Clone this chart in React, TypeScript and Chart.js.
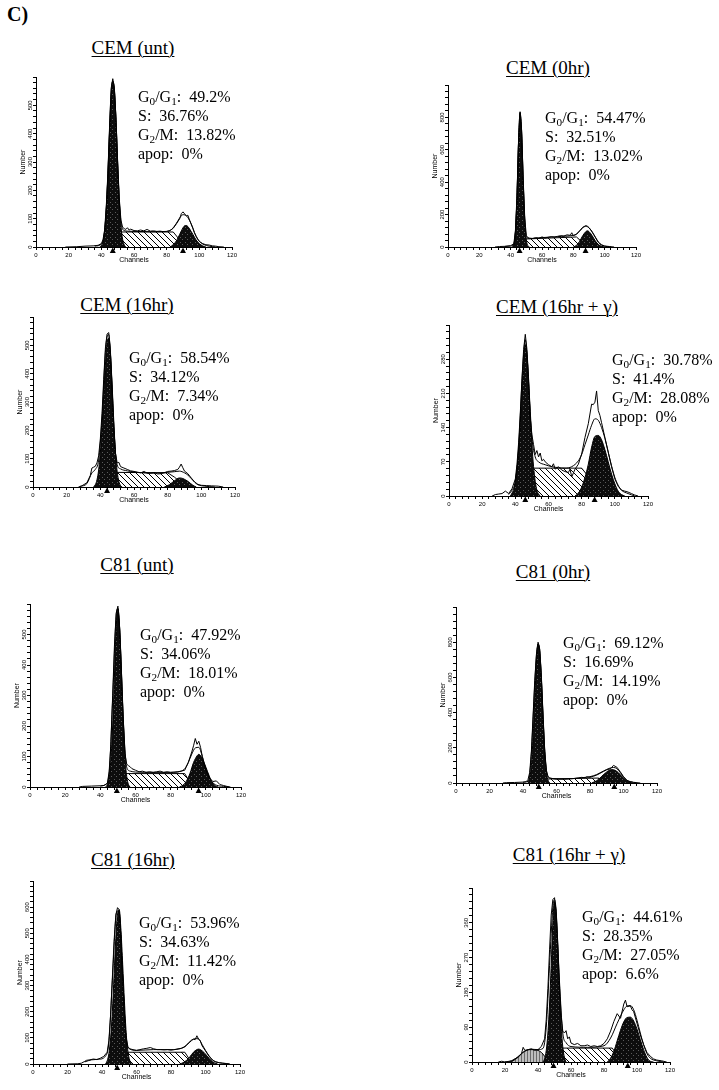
import React, { useEffect, useRef } from 'react';
import { Chart, registerables } from 'chart.js';

Chart.register(...registerables);

type Pt = [number, number];

// ---------- Panel titles & statistics ----------
const panelTitles = ['CEM (unt)', 'CEM (0hr)', 'CEM (16hr)', 'CEM (16hr + γ)', 'C81 (unt)', 'C81 (0hr)', 'C81 (16hr)', 'C81 (16hr + γ)'];
const g1Pcts = ['49.2%', '54.47%', '58.54%', '30.78%', '47.92%', '69.12%', '53.96%', '44.61%'];
const sPcts = ['36.76%', '32.51%', '34.12%', '41.4%', '34.06%', '16.69%', '34.63%', '28.35%'];
const g2Pcts = ['13.82%', '13.02%', '7.34%', '28.08%', '18.01%', '14.19%', '11.42%', '27.05%'];
const apopPcts = ['0%', '0%', '0%', '0%', '0%', '0%', '0%', '6.6%'];

// ---------- Axis settings ----------
const yMaxes = [600, 1000, 600, 350, 600, 1000, 700, 450];
const yLabelSteps = [100, 200, 100, 70, 100, 200, 100, 90];
const xMax = 120;
const xLabelStep = 20;
const xMinorStep = 4;
const peakMeans: number[][] = [[47, 90], [45.7, 87.8], [44], [46, 87.8], [49.4, 95.9], [49.4, 94.5], [48.8], [49.4, 94.4]];

// ---------- Data: CEM (unt) ----------
const cemUntRaw: Pt[] = [[18,0],[25,1],[30,3],[35,4],[38,6],[40,12],[41,25],[42,60],[43,140],[44,260],[45,420],[46,560],[47,594],[48,560],[49,450],[50,300],[51,170],[52,95],[53,70],[54,65],[55,62],[56,68],[57,60],[58,63],[60,58],[62,57],[64,60],[66,57],[68,62],[70,56],[72,57],[74,55],[76,56],[78,54],[80,55],[82,58],[84,66],[86,82],[88,100],[89,118],[90,124],[91,117],[92,110],[93,112],[94,95],[95,82],[96,68],[97,50],[98,38],[99,28],[100,20],[102,12],[104,8],[106,7],[108,4],[110,3],[112,1],[115,0]];
const cemUntFit: Pt[] = [[36,3],[40,10],[42,55],[43,135],[44,255],[45,410],[46,545],[47,585],[48,555],[49,445],[50,295],[51,165],[52,90],[53,64],[54,58],[56,56],[60,55],[70,54],[80,55],[83,62],[86,84],[88,103],[90,114],[92,110],[94,94],[96,66],[98,38],[100,20],[103,8],[106,3],[110,0]];
const cemUntG1: Pt[] = [[39,0],[40,5],[41,20],[42,55],[43,130],[44,250],[45,400],[46,530],[47,585],[48,550],[49,440],[50,290],[51,160],[52,75],[53,28],[54,8],[55,0]];
const cemUntS: Pt[] = [[45,0],[46,53],[84,53],[88,25],[89,0]];
const cemUntG2: Pt[] = [[82,0],[84,8],[86,22],[88,45],[90,68],[91,75],[92,76],[93,72],[94,64],[96,45],[98,25],[100,12],[102,4],[104,0]];

// ---------- Data: CEM (0hr) ----------
const cem0Raw: Pt[] = [[30,0],[33,3],[36,4],[40,8],[42,20],[43,95],[44,310],[45,650],[46,835],[47,720],[48,420],[49,175],[50,70],[51,58],[52,55],[54,52],[56,58],[58,54],[60,62],[62,56],[64,60],[66,64],[68,60],[70,66],[72,70],[74,68],[76,75],[78,72],[79,88],[80,70],[82,80],[84,100],[86,122],[88,132],[89,128],[90,120],[92,95],[94,62],[96,30],[98,14],[100,6],[103,3],[106,0]];
const cem0Fit: Pt[] = [[36,3],[40,6],[42,18],[43,90],[44,300],[45,640],[46,825],[47,710],[48,410],[49,170],[50,65],[52,52],[60,58],[70,64],[80,72],[82,78],[84,98],[86,118],[88,128],[90,118],[92,92],[94,60],[96,28],[98,12],[100,5],[104,0]];
const cem0G1: Pt[] = [[41,0],[42,15],[43,90],[44,300],[45,640],[46,830],[47,700],[48,400],[49,160],[50,45],[51,8],[52,0]];
const cem0S: Pt[] = [[45,0],[46,48],[82,62],[85,35],[87,0]];
const cem0G2: Pt[] = [[80,0],[82,10],[84,35],[86,70],[88,95],[89,100],[90,95],[92,70],[94,38],[96,15],[98,4],[100,0]];

// ---------- Data: CEM (16hr) ----------
const cem16Raw: Pt[] = [[27,0],[29,4],[32,15],[34,40],[35,67],[36,70],[37,73],[38,85],[39,110],[40,170],[41,260],[42,380],[43,490],[44,540],[45,545],[46,480],[47,350],[48,210],[49,120],[50,85],[51,87],[52,72],[54,67],[56,62],[58,57],[60,55],[62,52],[64,50],[66,55],[68,48],[70,49],[72,51],[74,46],[76,47],[78,50],[80,55],[82,56],[84,58],[86,62],[87,70],[88,81],[89,68],[90,56],[92,47],[94,32],[96,18],[98,9],[100,6],[103,5],[106,4],[110,3],[113,0]];
const cem16Fit: Pt[] = [[28,2],[32,12],[35,50],[37,62],[39,95],[41,240],[43,475],[44,530],[45,538],[46,470],[47,345],[48,215],[49,120],[50,78],[52,64],[56,57],[60,53],[70,49],[80,52],[84,54],[87,56],[90,50],[92,42],[94,30],[96,17],[98,8],[102,3],[108,0]];
const cem16G1: Pt[] = [[36,0],[37,8],[38,25],[39,60],[40,120],[41,210],[42,320],[43,430],[44,510],[45,525],[46,470],[47,360],[48,230],[49,120],[50,55],[51,20],[52,5],[53,0]];
const cem16S: Pt[] = [[43,0],[44,52],[80,50],[84,35],[88,15],[90,0]];
const cem16G2: Pt[] = [[78,0],[81,8],[84,22],[87,32],[89,30],[92,20],[95,6],[97,0]];

// ---------- Data: CEM (16hr + γ) ----------
const cem16gRaw: Pt[] = [[26,0],[28,3],[30,4],[32,5],[34,10],[36,5],[38,15],[40,35],[41,65],[42,110],[43,170],[44,240],[45,300],[46,331],[47,300],[48,240],[49,160],[50,125],[51,105],[52,85],[53,93],[54,80],[55,88],[56,72],[57,75],[58,70],[60,64],[62,60],[63,66],[64,55],[66,60],[68,53],[70,50],[72,48],[73,55],[74,39],[76,55],[78,65],[80,86],[82,120],[84,148],[86,188],[87,187],[88,192],[89,215],[90,175],[91,165],[92,150],[94,120],[96,90],[98,60],[100,35],[102,20],[104,12],[106,10],[108,8],[110,5],[112,2],[114,0]];
const cem16gFit: Pt[] = [[36,3],[38,12],[40,30],[42,100],[44,235],[45,290],[46,320],[47,290],[48,235],[50,120],[52,80],[54,70],[58,64],[62,60],[66,58],[70,57],[74,60],[78,72],[80,85],[82,105],[84,125],[86,145],[88,158],[90,155],[92,140],[94,118],[96,90],[98,62],[100,38],[102,22],[104,12],[108,5],[112,0]];
const cem16gG1: Pt[] = [[37,0],[38,6],[39,14],[40,30],[41,55],[42,95],[43,150],[44,215],[45,275],[46,310],[47,290],[48,230],[49,165],[50,105],[51,60],[52,30],[53,12],[54,4],[55,0]];
const cem16gS: Pt[] = [[45,0],[46,57],[80,57],[84,40],[86,0]];
const cem16gG2: Pt[] = [[76,0],[78,6],[80,18],[82,38],[84,65],[86,100],[88,122],[90,124],[92,115],[94,95],[96,70],[98,45],[100,25],[102,10],[104,3],[106,0]];

// ---------- Data: C81 (unt) ----------
const c81UntRaw: Pt[] = [[28,0],[30,2],[35,3],[40,4],[42,5],[44,12],[45,50],[46,140],[47,300],[48,460],[49,570],[50,593],[51,520],[52,380],[53,230],[54,110],[55,75],[56,70],[57,66],[58,60],[60,55],[62,50],[64,52],[66,48],[68,50],[70,48],[72,50],[74,52],[76,48],[78,50],[80,48],[82,49],[84,50],[86,52],[88,55],[90,80],[92,115],[93,135],[94,159],[95,140],[96,150],[97,130],[98,100],[99,75],[100,55],[102,30],[104,18],[106,20],[108,8],[110,5],[112,2],[114,0]];
const c81UntFit: Pt[] = [[40,3],[43,8],[45,45],[47,290],[49,560],[50,585],[51,515],[53,225],[55,65],[57,52],[60,49],[70,48],[80,48],[86,52],[88,60],[90,80],[92,108],[94,128],[96,130],[98,100],[100,60],[102,32],[104,14],[106,6],[110,2],[113,0]];
const c81UntG1: Pt[] = [[43,0],[44,8],[45,30],[46,90],[47,200],[48,360],[49,520],[50,585],[51,520],[52,380],[53,220],[54,100],[55,35],[56,8],[57,0]];
const c81UntS: Pt[] = [[48,0],[49,44],[88,44],[91,15],[92,0]];
const c81UntG2: Pt[] = [[85,0],[87,6],[89,20],[91,45],[93,80],[95,102],[96,107],[97,103],[99,80],[101,50],[103,22],[105,6],[107,0]];

// ---------- Data: C81 (0hr) ----------
const c810Raw: Pt[] = [[28,0],[30,2],[35,3],[40,5],[42,8],[43,20],[44,60],[45,180],[46,380],[47,580],[48,730],[49,800],[50,760],[51,600],[52,380],[53,180],[54,70],[55,35],[56,28],[58,25],[60,22],[65,22],[70,25],[73,28],[75,32],[77,30],[78,35],[80,32],[82,38],[84,45],[86,55],[88,65],[90,75],[92,80],[93,88],[94,100],[95,95],[96,90],[98,65],[100,35],[102,15],[104,8],[106,4],[108,2],[110,0]];
const c810Fit: Pt[] = [[40,4],[43,10],[44,50],[45,170],[46,360],[47,560],[48,720],[49,790],[50,750],[51,590],[52,370],[53,180],[54,70],[55,35],[58,25],[65,23],[75,30],[80,36],[84,48],[88,68],[92,85],[94,88],[96,82],[98,60],[100,36],[102,16],[104,7],[108,0]];
const c810G1: Pt[] = [[43,0],[44,30],[45,100],[46,260],[47,470],[48,680],[49,790],[50,740],[51,580],[52,360],[53,170],[54,60],[55,15],[56,0]];
const c810S: Pt[] = [[48,0],[49,22],[85,28],[88,10],[89,0]];
const c810G2: Pt[] = [[81,0],[83,8],[85,20],[87,38],[89,55],[91,70],[93,76],[95,72],[97,58],[99,38],[101,20],[103,8],[105,0]];

// ---------- Data: C81 (16hr) ----------
const c8116Raw: Pt[] = [[20,0],[26,1],[28,3],[30,10],[31,14],[33,16],[35,19],[37,17],[39,22],[41,29],[43,45],[44,90],[45,190],[46,330],[47,470],[48,570],[49,598],[50,590],[51,480],[52,330],[53,190],[54,100],[55,67],[56,58],[58,55],[60,52],[62,55],[64,58],[66,60],[68,63],[70,58],[72,55],[74,55],[76,54],[78,55],[80,53],[82,55],[84,58],[86,60],[88,65],[90,80],[92,92],[93,95],[94,93],[95,108],[96,95],[97,88],[98,70],[100,50],[102,30],[104,15],[106,8],[108,5],[110,3],[112,2],[114,0]];
const c8116Fit: Pt[] = [[30,8],[34,16],[38,18],[42,30],[44,85],[46,320],[48,560],[49,585],[50,580],[52,330],[54,95],[56,58],[60,52],[70,55],[80,55],[86,60],[89,72],[92,90],[94,97],[96,96],[98,75],[100,52],[102,32],[104,16],[106,8],[110,3],[114,0]];
const c8116G1: Pt[] = [[42,0],[43,12],[44,40],[45,100],[46,200],[47,340],[48,480],[49,575],[50,590],[51,510],[52,380],[53,240],[54,120],[55,50],[56,15],[57,0]];
const c8116S: Pt[] = [[48,0],[49,45],[88,45],[91,15],[92,0]];
const c8116G2: Pt[] = [[85,0],[87,5],[89,14],[91,28],[93,45],[95,55],[96,57],[97,55],[99,45],[101,30],[103,15],[105,5],[107,0]];

// ---------- Data: C81 (16hr + γ) ----------
const c8116gRaw: Pt[] = [[16,0],[18,2],[20,0],[24,3],[26,8],[28,12],[30,22],[31,38],[32,30],[34,32],[36,34],[38,30],[40,32],[42,40],[44,60],[45,110],[46,190],[47,290],[48,380],[49,420],[50,425],[51,390],[52,300],[53,200],[54,120],[55,80],[56,75],[57,81],[58,60],[59,65],[60,49],[62,45],[64,48],[66,42],[68,42],[70,44],[72,40],[74,42],[76,40],[78,42],[80,48],[82,60],[84,80],[86,105],[88,125],[90,113],[92,150],[93,160],[94,143],[96,145],[97,135],[98,130],[100,100],[102,70],[104,45],[106,25],[108,15],[110,8],[112,5],[115,3],[118,0]];
const c8116gFit: Pt[] = [[20,0],[24,3],[28,14],[32,28],[36,33],[40,32],[43,35],[45,90],[47,250],[49,400],[50,420],[51,390],[53,210],[55,75],[57,50],[60,40],[70,38],[80,42],[84,62],[88,100],[92,135],[94,145],[96,146],[98,135],[100,108],[102,75],[104,45],[106,22],[108,10],[112,3],[116,0]];
const c8116gApop: Pt[] = [[23,0],[26,6],[28,14],[30,22],[32,28],[35,32],[38,32],[40,30],[42,25],[44,15],[46,0]];
const c8116gG1: Pt[] = [[43,0],[44,8],[45,30],[46,75],[47,150],[48,250],[49,360],[50,415],[51,380],[52,290],[53,180],[54,95],[55,40],[56,12],[57,0]];
const c8116gS: Pt[] = [[48,0],[49,36],[85,36],[88,18],[89,0]];
const c8116gG2: Pt[] = [[82,0],[84,10],[86,28],[88,55],[90,82],[92,104],[94,115],[96,116],[98,106],[100,85],[102,58],[104,32],[106,12],[108,2],[110,0]];

const rawSeries = [cemUntRaw, cem0Raw, cem16Raw, cem16gRaw, c81UntRaw, c810Raw, c8116Raw, c8116gRaw];
const fitSeries = [cemUntFit, cem0Fit, cem16Fit, cem16gFit, c81UntFit, c810Fit, c8116Fit, c8116gFit];
const g1Series = [cemUntG1, cem0G1, cem16G1, cem16gG1, c81UntG1, c810G1, c8116G1, c8116gG1];
const sSeries = [cemUntS, cem0S, cem16S, cem16gS, c81UntS, c810S, c8116S, c8116gS];
const g2Series = [cemUntG2, cem0G2, cem16G2, cem16gG2, c81UntG2, c810G2, c8116G2, c8116gG2];
const apopSeries: (Pt[] | null)[] = [null, null, null, null, null, null, null, c8116gApop];

// ---------- Layout (pixel boxes for each panel's plot area and texts) ----------
const layout = [
  { L: 36, T: 77, R: 232, B: 247, tx: 133, ty: 48, sx: 138, sy: 97 },
  { L: 448, T: 85, R: 636, B: 247, tx: 548, ty: 68, sx: 545, sy: 118 },
  { L: 33, T: 317, R: 235, B: 487, tx: 127, ty: 305, sx: 129, sy: 358 },
  { L: 449, T: 325, R: 648, B: 496, tx: 557, ty: 307, sx: 612, sy: 360 },
  { L: 30, T: 604, R: 241, B: 787, tx: 137, ty: 565, sx: 140, sy: 635 },
  { L: 456, T: 607, R: 657, B: 783, tx: 553, ty: 572, sx: 563, sy: 643 },
  { L: 33, T: 881, R: 240, B: 1064, tx: 133, ty: 860, sx: 139, sy: 923 },
  { L: 472, T: 888, R: 670, B: 1062, tx: 569, ty: 855, sx: 582, sy: 917 },
];

const AX_FONT = "'Liberation Sans', Arial, sans-serif";
const SERIF = "'Liberation Serif', 'Times New Roman', serif";
const YW = 17; // y-axis box width
const XH = 17; // x-axis box height
const PT = 6;  // top padding
const PR = 9;  // right padding

const toXY = (a: Pt[]) => a.map(([x, y]) => ({ x, y }));

function makeHatch(): CanvasPattern | string {
  const c = document.createElement('canvas');
  const s = 6;
  c.width = s; c.height = s;
  const g = c.getContext('2d');
  if (!g) return '#ccc';
  g.fillStyle = '#fff';
  g.fillRect(0, 0, s, s);
  g.strokeStyle = '#000';
  g.lineWidth = 1;
  g.beginPath();
  g.moveTo(-1, -1); g.lineTo(s + 1, s + 1);
  g.moveTo(-1, s - 1); g.lineTo(1, s + 1);
  g.moveTo(s - 1, -1); g.lineTo(s + 1, 1);
  g.stroke();
  return g.createPattern(c, 'repeat') || '#ccc';
}

function makeDither(): CanvasPattern | string {
  const c = document.createElement('canvas');
  c.width = 5; c.height = 5;
  const g = c.getContext('2d');
  if (!g) return '#111';
  g.fillStyle = '#0d0d0d';
  g.fillRect(0, 0, 5, 5);
  g.fillStyle = '#5a5a5a';
  g.fillRect(1, 1, 1, 1);
  g.fillRect(3, 3, 1, 1);
  return g.createPattern(c, 'repeat') || '#111';
}

function makeApopPattern(): CanvasPattern | string {
  const c = document.createElement('canvas');
  c.width = 3; c.height = 2;
  const g = c.getContext('2d');
  if (!g) return '#aaa';
  g.fillStyle = '#bdbdbd';
  g.fillRect(0, 0, 3, 2);
  g.fillStyle = '#6a6a6a';
  g.fillRect(0, 0, 1, 2);
  return g.createPattern(c, 'repeat') || '#aaa';
}

const peakMarkerPlugin = {
  id: 'peakMarkers',
  afterDatasetsDraw(chart: any, _args: any, opts: any) {
    const means: number[] = (opts && opts.means) || [];
    const xs = chart.scales.x;
    const area = chart.chartArea;
    const c = chart.ctx;
    c.save();
    c.fillStyle = '#000';
    means.forEach((m) => {
      const px = xs.getPixelForValue(m);
      c.beginPath();
      c.moveTo(px, area.bottom + 0.5);
      c.lineTo(px - 3, area.bottom + 6);
      c.lineTo(px + 3, area.bottom + 6);
      c.closePath();
      c.fill();
    });
    c.restore();
  },
};

function Histogram({ idx }: { idx: number }) {
  const ref = useRef<HTMLCanvasElement | null>(null);
  const p = layout[idx];
  const width = p.R - p.L + YW + PR;
  const height = p.B - p.T + PT + XH;

  useEffect(() => {
    const canvas = ref.current;
    if (!canvas) return;
    const hatch = makeHatch();
    const dither = makeDither();
    const apopFill = makeApopPattern();
    const yMax = yMaxes[idx];
    const yStep = yLabelSteps[idx];
    const datasets: any[] = [
      { label: 'data', data: toXY(rawSeries[idx]), borderColor: '#000', borderWidth: 1, pointRadius: 0, fill: false, tension: 0, order: 0 },
      { label: 'fit', data: toXY(fitSeries[idx]), borderColor: '#000', borderWidth: 1, pointRadius: 0, fill: false, cubicInterpolationMode: 'monotone', order: 1 },
      { label: 'G0/G1', data: toXY(g1Series[idx]), borderColor: '#000', borderWidth: 1, backgroundColor: dither, fill: 'origin', pointRadius: 0, cubicInterpolationMode: 'monotone', order: 2 },
      { label: 'G2/M', data: toXY(g2Series[idx]), borderColor: '#000', borderWidth: 1, backgroundColor: dither, fill: 'origin', pointRadius: 0, cubicInterpolationMode: 'monotone', order: 2 },
      { label: 'S', data: toXY(sSeries[idx]), borderColor: '#000', borderWidth: 1, backgroundColor: hatch, fill: 'origin', pointRadius: 0, tension: 0, order: 4 },
    ];
    const apop = apopSeries[idx];
    if (apop) {
      datasets.push({ label: 'apop', data: toXY(apop), borderColor: '#000', borderWidth: 1, backgroundColor: apopFill, fill: 'origin', pointRadius: 0, cubicInterpolationMode: 'monotone', order: 3 });
    }

    const chart = new Chart(canvas, {
      type: 'line',
      data: { datasets },
      plugins: [peakMarkerPlugin as any],
      options: {
        animation: false,
        responsive: false,
        maintainAspectRatio: false,
        devicePixelRatio: 1,
        events: [],
        layout: { padding: { left: 0, top: PT, right: PR, bottom: 0 } },
        plugins: {
          legend: { display: false },
          tooltip: { enabled: false },
          peakMarkers: { means: peakMeans[idx] },
        } as any,
        scales: {
          x: {
            type: 'linear',
            min: 0,
            max: xMax,
            afterFit: (s: any) => { s.height = XH; },
            ticks: {
              stepSize: xMinorStep,
              autoSkip: false,
              minRotation: 0,
              maxRotation: 0,
              padding: 2,
              color: '#000',
              font: { family: AX_FONT, size: 6 },
              callback: (v: any) => (Number(v) % xLabelStep === 0 ? String(v) : ''),
            },
            grid: { display: true, drawOnChartArea: false, drawTicks: true, tickLength: 3, color: '#000', tickColor: '#000', tickWidth: 1 },
            border: { display: true, color: '#000', width: 1 },
            title: { display: true, text: 'Channels', color: '#000', font: { family: AX_FONT, size: 7 }, padding: 0 },
          },
          y: {
            type: 'linear',
            min: 0,
            max: yMax,
            afterFit: (s: any) => { s.width = YW; },
            ticks: {
              stepSize: yStep / 5,
              autoSkip: false,
              minRotation: 90,
              maxRotation: 90,
              crossAlign: 'center',
              padding: -2,
              color: '#000',
              font: { family: AX_FONT, size: 6 },
              callback: (v: any) => {
                const n = Math.round(Number(v));
                return n % yStep === 0 && n < yMax ? String(n) : '';
              },
            },
            grid: { display: true, drawOnChartArea: false, drawTicks: true, tickLength: 3, color: '#000', tickColor: '#000', tickWidth: 1 },
            border: { display: true, color: '#000', width: 1 },
            title: { display: true, text: 'Number', color: '#000', font: { family: AX_FONT, size: 7 }, padding: 0 },
          },
        },
      } as any,
    });
    return () => chart.destroy();
  }, [idx]);

  return (
    <canvas
      ref={ref}
      width={width}
      height={height}
      style={{ position: 'absolute', left: p.L - YW, top: p.T - PT, width, height }}
    />
  );
}

const subStyle: React.CSSProperties = { fontSize: '0.7em', lineHeight: 0, verticalAlign: '-0.3em' };

function Stats({ idx }: { idx: number }) {
  const p = layout[idx];
  return (
    <div
      style={{
        position: 'absolute',
        left: p.sx,
        top: p.sy - 10,
        fontFamily: SERIF,
        fontSize: 16,
        lineHeight: '19px',
        whiteSpace: 'pre',
        color: '#000',
      }}
    >
      <div>G<sub style={subStyle}>0</sub>/G<sub style={subStyle}>1</sub>{':  ' + g1Pcts[idx]}</div>
      <div>{'S:  ' + sPcts[idx]}</div>
      <div>G<sub style={subStyle}>2</sub>{'/M:  ' + g2Pcts[idx]}</div>
      <div>{'apop:  ' + apopPcts[idx]}</div>
    </div>
  );
}

function Title({ idx }: { idx: number }) {
  const p = layout[idx];
  return (
    <div
      style={{
        position: 'absolute',
        left: p.tx - 110,
        width: 220,
        top: p.ty - 11,
        textAlign: 'center',
        fontFamily: SERIF,
        fontSize: 19,
        lineHeight: '22px',
        whiteSpace: 'nowrap',
        color: '#000',
      }}
    >
      <span style={{ textDecoration: 'underline', textUnderlineOffset: '2px', textDecorationThickness: '1px' }}>{panelTitles[idx]}</span>
    </div>
  );
}

export default function App() {
  const idxs = panelTitles.map((_, i) => i);
  return (
    <div style={{ position: 'absolute', left: 0, top: 0, width: 719, height: 1090, background: '#fff', overflow: 'hidden' }}>
      <div style={{ position: 'absolute', left: 7, top: 2, fontFamily: SERIF, fontWeight: 'bold', fontSize: 20, lineHeight: '24px' }}>C)</div>
      {idxs.map((i) => (
        <React.Fragment key={i}>
          <Title idx={i} />
          <Histogram idx={i} />
          <Stats idx={i} />
        </React.Fragment>
      ))}
    </div>
  );
}
